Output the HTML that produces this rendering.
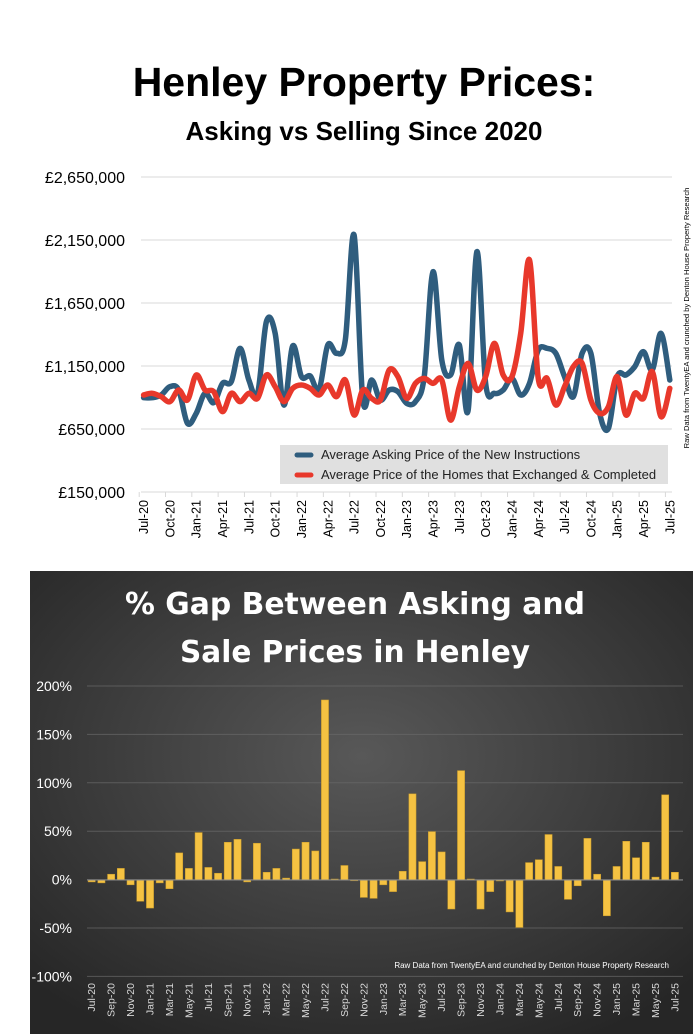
<!DOCTYPE html>
<html><head><meta charset="utf-8">
<style>
html,body{margin:0;padding:0;background:#fff;width:698px;height:1034px;overflow:hidden;font-family:"Liberation Sans",sans-serif}
</style></head>
<body>
<svg id="s" width="698" height="1034" xmlns="http://www.w3.org/2000/svg" style="position:absolute;left:0;top:0">
<defs>
<radialGradient id="bg" cx="50%" cy="40%" r="70%">
<stop offset="0" stop-color="#585858"/><stop offset="1" stop-color="#262626"/>
</radialGradient>
</defs>
<rect width="698" height="1034" fill="#fff"/>
<text x="364" y="96" text-anchor="middle" font-size="41" font-weight="bold" fill="#000">Henley Property Prices:</text>
<text x="364" y="140" text-anchor="middle" font-size="26" font-weight="bold" fill="#000">Asking vs Selling Since 2020</text>
<g id="gtop"></g>
<text transform="translate(689,318) rotate(-90)" text-anchor="middle" font-size="7.6" fill="#000">Raw Data from TwentyEA and crunched by Denton House Property Research</text>
<rect x="30" y="571" width="663" height="463" fill="url(#bg)"/>
<text x="355" y="614" text-anchor="middle" font-size="30" font-weight="bold" fill="#fff" font-family="DejaVu Sans, sans-serif" textLength="460" lengthAdjust="spacingAndGlyphs">% Gap Between Asking and</text>
<text x="355" y="662" text-anchor="middle" font-size="30" font-weight="bold" fill="#fff" font-family="DejaVu Sans, sans-serif" textLength="350" lengthAdjust="spacingAndGlyphs">Sale Prices in Henley</text>
<g id="gbot"></g>
<text x="669" y="968" text-anchor="end" font-size="8" fill="#fff">Raw Data from TwentyEA and crunched by Denton House Property Research</text>
</svg>
<script>
(function(){
var NS="http://www.w3.org/2000/svg";
function el(p,t,a,txt){var e=document.createElementNS(NS,t);for(var k in a)e.setAttribute(k,a[k]);if(txt!=null)e.textContent=txt;p.appendChild(e);return e;}
var gt=document.getElementById('gtop'),gb=document.getElementById('gbot');
var ylab=["£2,650,000","£2,150,000","£1,650,000","£1,150,000","£650,000","£150,000"];
for(var i=0;i<6;i++){var y=177+i*63;
 if(i<5) el(gt,'line',{x1:141,x2:672,y1:y,y2:y,stroke:'#d9d9d9','stroke-width':1});
 el(gt,'text',{x:125,y:y+6,'text-anchor':'end','font-size':16,fill:'#000'},ylab[i]);}
el(gt,'line',{x1:141,x2:672,y1:492,y2:492,stroke:'#d9d9d9','stroke-width':1});
var m=["Jul","Oct","Jan","Apr"];
for(var j=0;j<21;j++){var x=143.6+j*3*8.77;var yr=20+Math.floor((j+2)/4);
 el(gt,'line',{x1:x-4.4,x2:x-4.4,y1:492,y2:497,stroke:'#d9d9d9'});
 el(gt,'text',{transform:'translate('+(x+4.5)+',500) rotate(-90)','text-anchor':'end','font-size':12.5,fill:'#000'},m[j%4]+'-'+yr);}
var B=[533,533,525,500,510,610,580,520,548,490,485,385,480,520,305,340,555,378,470,468,510,375,400,360,45,540,480,540,510,515,550,545,470,155,420,465,375,572,95,490,520,510,475,525,490,390,385,400,470,530,400,400,580,625,470,465,440,395,450,340,480];
var R=[525,520,530,545,510,540,465,510,515,575,520,545,520,535,465,500,545,505,495,505,525,495,530,480,585,510,535,540,450,470,535,490,475,490,480,600,500,430,510,470,370,465,470,340,120,475,475,555,500,440,430,540,580,560,470,585,520,535,455,590,505];
function path(V){var P=V.map(function(v,i){return [143.6+i*8.77,220+v/3];});
 var d='M'+P[0][0]+' '+P[0][1];
 for(var i=0;i<P.length-1;i++){var p0=P[i>0?i-1:i],p1=P[i],p2=P[i+1],p3=P[i+2<P.length?i+2:i+1];
  d+=' C'+(p1[0]+(p2[0]-p0[0])/6)+' '+(p1[1]+(p2[1]-p0[1])/6)+' '+(p2[0]-(p3[0]-p1[0])/6)+' '+(p2[1]-(p3[1]-p1[1])/6)+' '+p2[0]+' '+p2[1];}
 return d;}
el(gt,'path',{d:path(B),fill:'none',stroke:'#2f5d7e','stroke-width':5.5,'stroke-linejoin':'round','stroke-linecap':'round'});
el(gt,'path',{d:path(R),fill:'none',stroke:'#e8382b','stroke-width':5.5,'stroke-linejoin':'round','stroke-linecap':'round'});
el(gt,'rect',{x:280,y:445,width:388,height:39,fill:'#e0e0e0'});
el(gt,'line',{x1:297,x2:311,y1:455,y2:455,stroke:'#2f5d7e','stroke-width':5,'stroke-linecap':'round'});
el(gt,'line',{x1:297,x2:311,y1:475,y2:475,stroke:'#e8382b','stroke-width':5,'stroke-linecap':'round'});
el(gt,'text',{x:321,y:459,'font-size':13,fill:'#222'},'Average Asking Price of the New Instructions');
el(gt,'text',{x:321,y:479,'font-size':13,fill:'#222'},'Average Price of the Homes that Exchanged & Completed');
var pl=["200%","150%","100%","50%","0%","-50%","-100%"];
for(var i=0;i<7;i++){var y=686+i*48.4;
 el(gb,'line',{x1:87,x2:683,y1:y,y2:y,stroke:'#6a6a6a','stroke-width':1,'stroke-opacity':0.7});
 el(gb,'text',{x:72,y:y+5,'text-anchor':'end','font-size':14,fill:'#fff'},pl[i]);}
var G=[-2,-3,6,12,-5,-22,-29,-3,-9,28,12,49,13,7,39,42,-2,38,8,12,2,32,39,30,186,1,15,0,-18,-19,-5,-12,9,89,19,50,29,-30,113,1,-30,-12,-1,-33,-49,18,21,47,14,-20,-6,43,6,-37,14,40,23,39,3,88,8];
var z=880,k=0.968;
G.forEach(function(v,i){var cx=91.7+i*9.72,h=Math.abs(v)*k;
 el(gb,'rect',{x:cx-3.6,y:v>=0?z-h:z,width:7.2,height:Math.max(h,0.8),fill:'#f5c242',stroke:'#c79a2a','stroke-width':0.5});});
el(gb,'line',{x1:87,x2:683,y1:z,y2:z,stroke:'#8a8a8a','stroke-width':1});
var mm=["Jul","Sep","Nov","Jan","Mar","May"];
for(var j=0;j<31;j++){var x=91.7+j*2*9.72;var yr=20+Math.floor((j+3)/6);
 el(gb,'text',{transform:'translate('+(x+3.5)+',983) rotate(-90)','text-anchor':'end','font-size':10.5,fill:'#d8d8d8'},mm[j%6]+'-'+yr);}
})();
</script>
</body></html>
